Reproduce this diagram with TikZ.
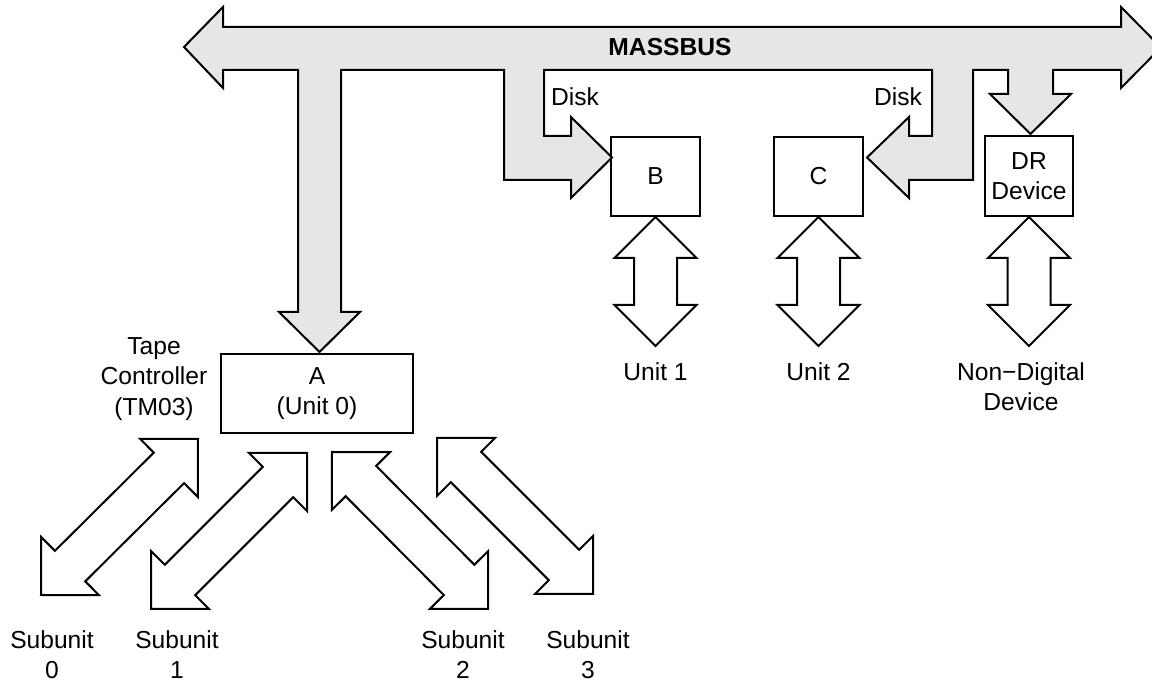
\documentclass[tikz,border=0pt]{standalone}
\usepackage{fontspec}
\setmainfont{Liberation Sans}
\usetikzlibrary{calc,positioning}
\definecolor{ink}{HTML}{000000}
\definecolor{bus}{HTML}{E6E6E6}
\newcommand{\headlen}{20.5pt}
\newcommand{\headhw}{20.5pt}
\newcommand{\shafthw}{10.75pt}
% two-headed block arrow from tip #1 to tip #2
\newcommand{\biarrow}[2]{%
  \filldraw[fill=white, draw=ink, line width=1pt]
    (#1) -- ($(#1)!\headlen!(#2)!\headhw!90:(#2)$) -- ($(#1)!\headlen!(#2)!\shafthw!90:(#2)$)
    -- ($(#2)!\headlen!(#1)!\shafthw!-90:(#1)$) -- ($(#2)!\headlen!(#1)!\headhw!-90:(#1)$)
    -- (#2) -- ($(#2)!\headlen!(#1)!\headhw!90:(#1)$) -- ($(#2)!\headlen!(#1)!\shafthw!90:(#1)$)
    -- ($(#1)!\headlen!(#2)!\shafthw!-90:(#2)$) -- ($(#1)!\headlen!(#2)!\headhw!-90:(#2)$) -- cycle;}
\tikzset{
  unitbox/.style={draw=ink, fill=white, line width=1pt, align=center, inner sep=0pt},
  lbl/.style={inner sep=0pt, align=center, text=ink}
}
\begin{document}
\begin{tikzpicture}[x=0.5pt,y=-0.5pt,font=\fontsize{12.3}{15.3}\selectfont]
\clip (0,0) rectangle (1152,683);

% ---------- devices
\node[unitbox, minimum width=96pt, minimum height=39.5pt] (A) at (317,393.5) {A\\(Unit 0)};
\node[unitbox, minimum width=44.5pt, minimum height=39.5pt] (B) at (655.5,176.5) {B};
\node[unitbox, minimum width=44.5pt, minimum height=39.5pt] (C) at (818.5,176.5) {C};
\node[unitbox, minimum width=44pt, minimum height=40pt] (DR) at (1029,176) {DR\\Device};

% ---------- massbus with its branches
\filldraw[fill=bus, draw=ink, line width=1pt]
  (184,47) -- (223,7) -- (223,27) -- (1121,27) -- (1121,7) -- (1161,47.5) -- (1121,88) -- (1121,70)
  -- (1053,70) -- (1053,94) -- (1071,94) -- (1030.5,134) -- (990,94) -- (1008,94) -- (1008,70)
  -- (973,70) -- (973,180) -- (909,180) -- (909,198) -- (867,157.5) -- (909,117) -- (909,136) -- (932,136) -- (932,70)
  -- (544,70) -- (544,136) -- (571,136) -- (571,117) -- (612,157.5) -- (571,198) -- (571,180) -- (504,180) -- (504,70)
  -- (341,70) -- (341,312) -- (360,312) -- (319.5,352) -- (279,312) -- (298,312) -- (298,70)
  -- (223,70) -- (223,88) -- cycle;
\node[lbl, font=\fontsize{12.3}{15.3}\selectfont\bfseries] (massbus) at (670,47.5) {MASSBUS};
\node[lbl] (disk1) at (575,97) {Disk};
\node[lbl] (disk2) at (898,97) {Disk};

% ---------- drives below the bus
\coordinate (unit1tip) at ($(B.south)+(0,129)$);
\coordinate (unit2tip) at ($(C.south)+(0,129)$);
\coordinate (drtip) at ($(DR.south)+(0,129)$);
\biarrow{B.south}{unit1tip}
\biarrow{C.south}{unit2tip}
\biarrow{DR.south}{drtip}
\node[lbl, below=8pt of unit1tip] (unit1) {Unit 1};
\node[lbl, below=8pt of unit2tip] (unit2) {Unit 2};
\node[lbl, below=8pt of drtip, xshift=-4pt] (nondig) {Non−Digital\\Device};

% ---------- tape subunits
\node[lbl, anchor=north] (tape) at (154,337) {Tape\\Controller\\(TM03)};
\foreach \n/\ax/\ay/\bx/\by/\lx in {0/198/439/41/595/52,
                                    1/307/453/151/609/177,
                                    2/332/452/488/609/463,
                                    3/437/438/593/594/588} {
  \coordinate (sub\n-in) at (\ax,\ay);
  \coordinate (sub\n-out) at (\bx,\by);
  \biarrow{sub\n-in}{sub\n-out}
  \node[lbl, anchor=north] (sub\n) at (\lx,630) {Subunit\\\n};
}

\end{tikzpicture}
\end{document}
